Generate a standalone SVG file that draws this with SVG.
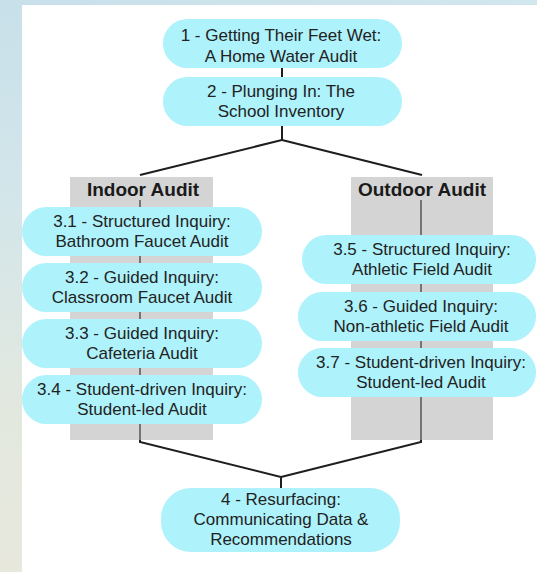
<svg xmlns="http://www.w3.org/2000/svg" width="537" height="572" viewBox="0 0 537 572">
  <defs>
    <linearGradient id="sideGrad" x1="0" y1="0" x2="0" y2="1">
      <stop offset="0" stop-color="#c8e0ea"/>
      <stop offset="0.35" stop-color="#d3e6ea"/>
      <stop offset="0.7" stop-color="#e2e8df"/>
      <stop offset="1" stop-color="#e8e8dd"/>
    </linearGradient>
    <linearGradient id="topGrad" x1="0" y1="0" x2="1" y2="0">
      <stop offset="0" stop-color="#c8e0ea"/>
      <stop offset="1" stop-color="#d2e6ee"/>
    </linearGradient>
  </defs>
  <style>
    .pill { fill: #aef2fb; }
    .panel { fill: #d4d4d4; }
    .axis { stroke: #555555; stroke-width: 1.5; fill: none; }
    .conn { stroke: #1e1e1e; stroke-width: 2; fill: none; stroke-linejoin: miter; }
    .t { font-family: "Liberation Sans", Arial, sans-serif; font-size: 17px; fill: #222222; text-anchor: middle; }
    .h { font-family: "Liberation Sans", Arial, sans-serif; font-size: 19px; font-weight: bold; fill: #1a1a1a; text-anchor: middle; }
  </style>

  <!-- background -->
  <rect x="0" y="0" width="537" height="572" fill="url(#sideGrad)"/>
  <rect x="0" y="0" width="537" height="5" fill="url(#topGrad)"/>
  <rect x="22" y="5" width="515" height="567" fill="#ffffff"/>

  <!-- panels -->
  <g id="indoor-panel">
    <rect class="panel" x="70" y="177" width="143" height="263"/>
    <text class="h" x="143" y="196">Indoor Audit</text>
    <line class="axis" x1="140" y1="200" x2="140" y2="440"/>
  </g>
  <g id="outdoor-panel">
    <rect class="panel" x="351" y="177" width="142" height="263"/>
    <text class="h" x="422" y="196">Outdoor Audit</text>
    <line class="axis" x1="421" y1="200" x2="421" y2="440"/>
  </g>

  <!-- connectors -->
  <g id="connectors">
    <line class="conn" x1="282" y1="68" x2="282" y2="77"/>
    <polyline class="conn" points="282,126 282,140 140,175"/>
    <polyline class="conn" points="282,140 422,175"/>
    <polyline class="conn" points="140,440 140,442 281,477 281,488"/>
    <polyline class="conn" points="421,440 421,442 281,477"/>
  </g>

  <!-- nodes -->
  <g id="node-1">
    <rect class="pill" x="163" y="19" width="239" height="49" rx="24.5"/>
    <text class="t" x="281" y="41">1 - Getting Their Feet Wet:</text>
    <text class="t" x="281" y="62">A Home Water Audit</text>
  </g>
  <g id="node-2">
    <rect class="pill" x="163" y="77" width="239" height="49" rx="24.5"/>
    <text class="t" x="281" y="97">2 - Plunging In: The</text>
    <text class="t" x="281" y="117">School Inventory</text>
  </g>

  <g id="node-3-1">
    <rect class="pill" x="22" y="207" width="240" height="49" rx="24.5"/>
    <text class="t" x="142" y="227">3.1 - Structured Inquiry:</text>
    <text class="t" x="142" y="247">Bathroom Faucet Audit</text>
  </g>
  <g id="node-3-2">
    <rect class="pill" x="22" y="263" width="240" height="49" rx="24.5"/>
    <text class="t" x="142" y="283">3.2 - Guided Inquiry:</text>
    <text class="t" x="142" y="303">Classroom Faucet Audit</text>
  </g>
  <g id="node-3-3">
    <rect class="pill" x="22" y="319" width="240" height="49" rx="24.5"/>
    <text class="t" x="142" y="339">3.3 - Guided Inquiry:</text>
    <text class="t" x="142" y="359">Cafeteria Audit</text>
  </g>
  <g id="node-3-4">
    <rect class="pill" x="22" y="375" width="240" height="49" rx="24.5"/>
    <text class="t" x="142" y="395">3.4 - Student-driven Inquiry:</text>
    <text class="t" x="142" y="415">Student-led Audit</text>
  </g>

  <g id="node-3-5">
    <rect class="pill" x="302" y="235" width="234" height="49" rx="24.5"/>
    <text class="t" x="422" y="255">3.5 - Structured Inquiry:</text>
    <text class="t" x="422" y="275">Athletic Field Audit</text>
  </g>
  <g id="node-3-6">
    <rect class="pill" x="298" y="292" width="238" height="49" rx="24.5"/>
    <text class="t" x="421" y="312">3.6 - Guided Inquiry:</text>
    <text class="t" x="421" y="332">Non-athletic Field Audit</text>
  </g>
  <g id="node-3-7">
    <rect class="pill" x="298" y="348" width="238" height="49" rx="24.5"/>
    <text class="t" x="421" y="368">3.7 - Student-driven Inquiry:</text>
    <text class="t" x="421" y="388">Student-led Audit</text>
  </g>

  <g id="node-4">
    <rect class="pill" x="161" y="488" width="239" height="64" rx="30"/>
    <text class="t" x="281" y="505">4 - Resurfacing:</text>
    <text class="t" x="281" y="525">Communicating Data &amp;</text>
    <text class="t" x="281" y="545">Recommendations</text>
  </g>
</svg>
